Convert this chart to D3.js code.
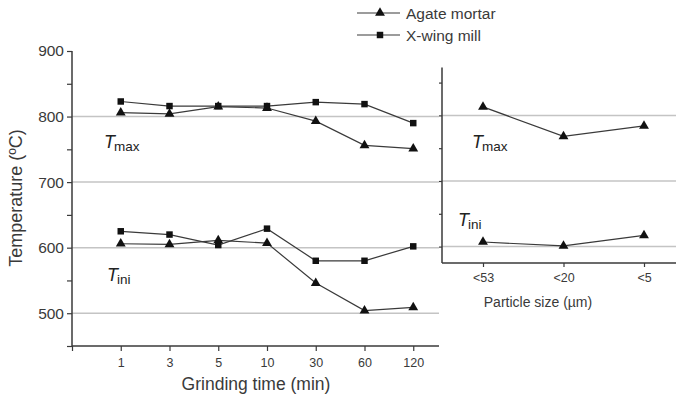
<!DOCTYPE html>
<html><head><meta charset="utf-8">
<script src="https://cdn.jsdelivr.net/npm/d3@7"></script>
<style>
html,body{margin:0;padding:0;background:#fff;}
svg{display:block;font-family:"Liberation Sans",Arial,sans-serif;}
</style></head>
<body>
<svg id="c" width="676" height="403"></svg>
<script>
// Data
const grindTimes = ["1","3","5","10","30","60","120"];
const agateTmax = [806, 804, 815, 813, 793, 756, 751];
const xwingTmax = [823, 816, 816, 816, 822, 819, 790];
const agateTini = [606, 605, 611, 607, 546, 504, 509];
const xwingTini = [625, 620, 604, 629, 580, 580, 602];
const particleSizes = ["<53", "<20", "<5"];
const sizeTmax = [813, 768, 784];
const sizeTini = [607, 601, 617];
const leftYTicks = [500, 600, 700, 800, 900];
const rightYTicks = [600, 700, 800];
const legendNames = ["Agate mortar", "X-wing mill"];

const svg = d3.select("#c");
const ink = "#3a3a3a";
const gridC = "#c4c4c4";

// scales
const yL = d3.scaleLinear().domain([450, 900]).range([346, 51]);
const yR = d3.scaleLinear().domain([575, 873]).range([263, 67.5]);
const xL = d3.scalePoint().domain(["", ...grindTimes, " "]).range([72, 462]);
const xR = d3.scalePoint().domain(particleSizes).range([483, 644]);

// gridlines left
svg.append("g").selectAll("line").data(leftYTicks.filter(d => d < 900)).join("line")
  .attr("x1", 72).attr("x2", 439)
  .attr("y1", d => yL(d)).attr("y2", d => yL(d))
  .attr("stroke", gridC).attr("stroke-width", 1.5);
// gridlines right
svg.append("g").selectAll("line").data(rightYTicks).join("line")
  .attr("x1", 442).attr("x2", 676)
  .attr("y1", d => yR(d)).attr("y2", d => yR(d))
  .attr("stroke", gridC).attr("stroke-width", 1.5);

// left y axis
const gyL = svg.append("g").attr("transform", "translate(72,0)")
  .call(d3.axisLeft(yL).tickValues(d3.range(450, 901, 50)).tickSize(5)
    .tickFormat(d => leftYTicks.includes(d) ? d : ""));
gyL.select(".domain").attr("d", `M0,${yL(900)}V${yL(450)}`);
// left x axis
const gxL = svg.append("g").attr("transform", "translate(0,346)")
  .call(d3.axisBottom(xL).tickValues(["", ...grindTimes]).tickSize(5).tickPadding(7));
gxL.select(".domain").attr("d", `M72,0H439`);

// right y axis
const gyR = svg.append("g").attr("transform", "translate(442,0)")
  .call(d3.axisLeft(yR).tickValues([600, 650, 700, 750, 800, 850]).tickSize(3).tickFormat(""));
gyR.select(".domain").attr("d", `M0,${yR(873)}V${yR(575)}`);
// right x axis
const gxR = svg.append("g").attr("transform", "translate(0,263)")
  .call(d3.axisBottom(xR).tickSize(4).tickPadding(6));
gxR.select(".domain").attr("d", `M442,0H676`);

[gyL, gxL, gyR, gxR].forEach(g => {
  g.selectAll(".domain").attr("stroke", ink).attr("stroke-width", 1.5).attr("fill", "none");
  g.selectAll(".tick line").attr("stroke", ink).attr("stroke-width", 1.2);
  g.selectAll("text").attr("fill", ink).attr("font-family", '"Liberation Sans",Arial,sans-serif');
});
gyL.selectAll("text").attr("font-size", 15.5);
gxL.selectAll("text").attr("font-size", 12.5);
gxR.selectAll("text").attr("font-size", 12.5);

// series
const triangle = d3.symbol().type(d3.symbolTriangle).size(42);
const square = d3.symbol().type(d3.symbolSquare).size(42);
function drawSeries(xs, vals, xScale, yScale, sym) {
  const pts = xs.map((c, i) => [xScale(c), yScale(vals[i])]);
  svg.append("path").attr("d", d3.line()(pts))
    .attr("fill", "none").attr("stroke", ink).attr("stroke-width", 1.2);
  svg.append("g").selectAll("path").data(pts).join("path")
    .attr("d", sym).attr("transform", d => `translate(${d[0]},${d[1]})`).attr("fill", "#111");
}
drawSeries(grindTimes, xwingTmax, xL, yL, square);
drawSeries(grindTimes, agateTmax, xL, yL, triangle);
drawSeries(grindTimes, xwingTini, xL, yL, square);
drawSeries(grindTimes, agateTini, xL, yL, triangle);
drawSeries(particleSizes, sizeTmax, xR, yR, triangle);
drawSeries(particleSizes, sizeTini, xR, yR, triangle);

// T labels
function tLabel(x, y, sub) {
  const t = svg.append("text").attr("x", x).attr("y", y).attr("fill", "#222")
    .attr("font-size", 18);
  t.append("tspan").attr("font-style", "italic").text("T");
  t.append("tspan").attr("font-size", 13.5).attr("dy", 3).attr("dx", -1).text(sub);
}
tLabel(104, 148, "max");
tLabel(107, 281, "ini");
tLabel(472, 148, "max");
tLabel(458, 226, "ini");

// axis titles
svg.append("text").attr("x", 256).attr("y", 390).attr("text-anchor", "middle")
  .attr("font-size", 17.5).attr("fill", ink).text("Grinding time (min)");
svg.append("text").attr("x", 538).attr("y", 307).attr("text-anchor", "middle")
  .attr("font-size", 14).attr("fill", ink).text("Particle size (µm)");
svg.append("text").attr("transform", "translate(22,198) rotate(-90)").attr("text-anchor", "middle")
  .attr("font-size", 18).attr("fill", ink).text("Temperature (ºC)");

// legend
const lg = svg.append("g");
legendNames.forEach((name, i) => {
  const y = [13, 35][i];
  lg.append("line").attr("x1", 357).attr("x2", 400).attr("y1", y).attr("y2", y)
    .attr("stroke", ink).attr("stroke-width", 1.2);
  lg.append("path").attr("d", i === 0 ? triangle : square)
    .attr("transform", `translate(380,${y})`).attr("fill", "#111");
  lg.append("text").attr("x", 406).attr("y", y + 5.5).attr("font-size", 15.5)
    .attr("fill", ink).text(name);
});
</script>
</body></html>
